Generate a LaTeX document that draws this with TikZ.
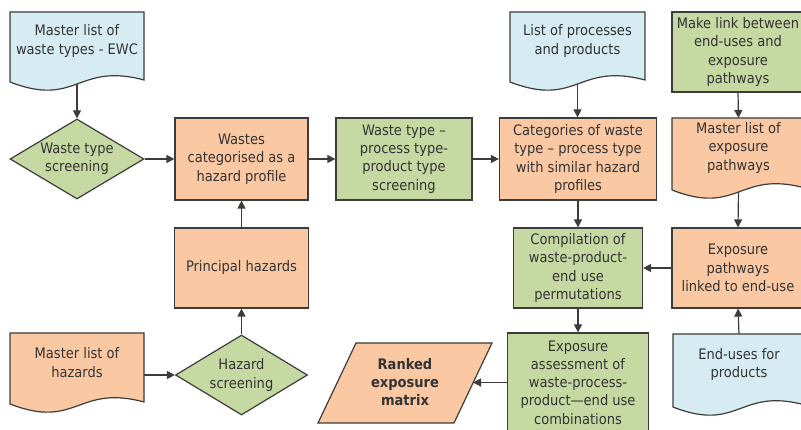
\documentclass[tikz,border=0pt]{standalone}
\usepackage{fontspec}
\setmainfont{DejaVu Sans Condensed}
\usetikzlibrary{shapes.geometric,arrows.meta}

\definecolor{docblue}{HTML}{D6ECF2}
\definecolor{stepgreen}{HTML}{C6D9A3}
\definecolor{peach}{HTML}{FAC8A2}
\definecolor{edge}{HTML}{3C3C3C}
\definecolor{ink}{HTML}{333333}

\pgfdeclarelayer{lines}
\pgfsetlayers{lines,main}

\tikzset{
  labeltext/.style={font=\fontsize{14.5}{18.3}\selectfont, text=ink, align=center, inner sep=0pt},
  outline/.style={draw=edge, line width=1.2pt},
  procbox/.style={outline, rectangle, labeltext},
  decision/.style={outline, diamond, fill=stepgreen, inner sep=0pt},
  holder/.style={rectangle, draw=none, inner sep=0pt, outer sep=0pt},
  arr/.style={draw=edge, line width=1.2pt, -{Triangle[length=8pt,width=8pt]}},
}

% document symbol: flat top, wavy bottom; name, x1, y1, x2, ybottom, fill, text
\newcommand\docshape[7]{%
  \filldraw[outline, fill=#6] (#2,#3) -- (#4,#3) -- (#4,#5-2)
    .. controls ({(#2+#4)/2},#5-20) and ({(#2+#4)/2},#5+26) .. (#2,#5) -- cycle;
  \node[holder, minimum width={#4-#2}, minimum height={#5-#3}] (#1)
    at ({(#2+#4)/2},{(#3+#5)/2}) {};
  \node[labeltext] (#1-t) at ([yshift=6pt]#1.center) {#7};
}

\begin{document}
\begin{tikzpicture}[x=1pt,y=-1pt]
\useasboundingbox (0,0) rectangle (801,430);

% left column
\docshape{ewc}{10}{12}{144}{82}{docblue}{Master list of\\waste types - EWC}
\node[decision, minimum width=134pt, minimum height=80pt] (wscr) at (77,159) {};
\node[labeltext] at (wscr.center) {Waste type\\screening};

\docshape{mlhaz}{10}{333}{144}{404}{peach}{Master list of\\hazards}

% second column
\node[procbox, fill=peach, minimum width=133pt, minimum height=82pt] (wastes) at (241.5,159)
  {Wastes\\categorised as a\\hazard profile};
\node[procbox, fill=peach, minimum width=134pt, minimum height=80pt] (princ) at (241.5,268)
  {Principal hazards};
\node[decision, minimum width=132pt, minimum height=80pt] (hscr) at (241.5,375) {};
\node[labeltext] at (hscr.center) {Hazard\\screening};

% third column
\node[procbox, fill=stepgreen, minimum width=136pt, minimum height=82pt] (wtp) at (404,159)
  {Waste type --\\process type-\\product type\\screening};
\filldraw[outline, fill=peach] (356,343) -- (492,343) -- (454,423) -- (318,423) -- cycle;
\node[labeltext, font=\fontsize{14.5}{18.3}\selectfont\bfseries] (ranked) at (405,382)
  {Ranked\\exposure\\matrix};
\coordinate (ranked-e) at (473,382.5);

% fourth column
\docshape{procs}{510}{12}{645}{82}{docblue}{List of processes\\and products}
\node[procbox, fill=peach, minimum width=157pt, minimum height=82pt] (cat) at (578,159)
  {Categories of waste\\type -- process type\\with similar hazard\\profiles};
\node[procbox, fill=stepgreen, minimum width=129pt, minimum height=80pt] (comp) at (578,268)
  {Compilation of\\waste-product-\\end use\\permutations};
\node[procbox, fill=stepgreen, minimum width=141pt, minimum height=99pt] (assess) at (578,382.5)
  {Exposure\\assessment of\\waste-process-\\product---end use\\combinations};

% right column
\node[procbox, fill=stepgreen, minimum width=132pt, minimum height=80pt] (link) at (738,52)
  {Make link between\\end-uses and\\exposure\\pathways};
\docshape{mlexp}{672}{118}{805}{190}{peach}{Master list of\\exposure\\pathways}
\node[procbox, fill=peach, minimum width=132pt, minimum height=80pt] (exppath) at (738,268)
  {Exposure\\pathways\\linked to end-use};
\docshape{enduse}{673}{334}{805}{407}{docblue}{End-uses for\\products}

% connectors
\begin{pgfonlayer}{lines}
  \draw[arr] (ewc.south) -- (wscr.north);
  \draw[arr] (wscr.east) -- (wastes.west);
  \draw[arr] (wastes.east) -- (wtp.west);
  \draw[arr] (wtp.east) -- (cat.west);
  \draw[arr] (procs.south) -- (procs.south |- cat.north);
  \draw[arr] (link.south) -- (mlexp.north);
  \draw[arr] (mlexp.south) -- (exppath.north);
  \draw[arr] (cat.south) -- (comp.north);
  \draw[arr] (exppath.west) -- (comp.east);
  \draw[arr] (comp.south) -- (assess.north);
  \draw[arr] (assess.west) -- (ranked-e);
  \draw[arr] (enduse.north) -- (exppath.south);
  \draw[arr] (hscr.west -| mlhaz.east) -- (hscr.west);
  \draw[arr] (hscr.north) -- (princ.south);
  \draw[arr] (princ.north) -- (wastes.south);
\end{pgfonlayer}
\end{tikzpicture}
\end{document}
